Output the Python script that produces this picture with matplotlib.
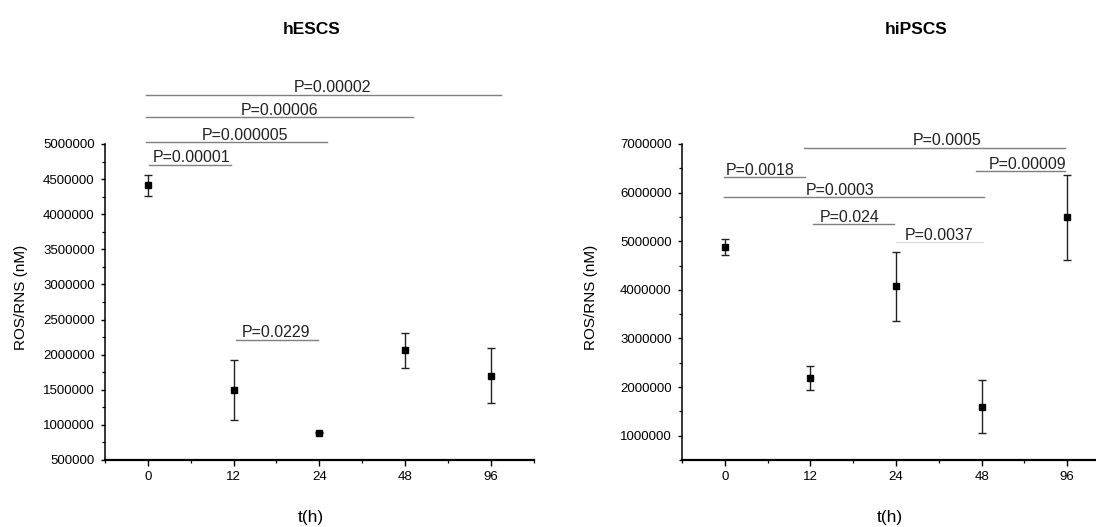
import matplotlib
matplotlib.use("Agg")
import matplotlib.pyplot as plt
from matplotlib.ticker import FixedLocator, MultipleLocator

plt.rcParams['font.family'] = ['Liberation Sans', 'DejaVu Sans']

categories = ["0", "12", "24", "48", "96"]

hesc_values = [4415000, 1500000, 890000, 2065000, 1700000]
hesc_errors = [150000, 425000, 10000, 250000, 390000]

hipsc_values = [4880000, 2180000, 4070000, 1600000, 5490000]
hipsc_errors = [165000, 250000, 706000, 541000, 880000]

# significance brackets: (label, start, end, level, text centre)
hesc_pvals = [
    ("P=0.00002", -0.016, 4.12, 5700000, 2.15),
    ("P=0.00006", -0.016, 3.09, 5380000, 1.54),
    ("P=0.000005", -0.016, 2.09, 5028000, 1.13),
    ("P=0.00001", 0.008, 0.965, 4705000, 0.51),
    ("P=0.0229", 1.026, 1.99, 2210000, 1.50),
]
hipsc_pvals = [
    ("P=0.0005", 0.93, 3.97, 6924000, 2.60),
    ("P=0.00009", 2.94, 3.97, 6444000, 3.54),
    ("P=0.0018", -0.01, 0.94, 6315000, 0.41),
    ("P=0.0003", -0.01, 3.03, 5903000, 1.35),
    ("P=0.024", 1.03, 1.98, 5348000, 1.46),
    ("P=0.0037", 2.0, 3.02, 4984000, 2.50),
]

W, H = 1096, 527
fig = plt.figure(figsize=(W / 100, H / 100), dpi=100)

def px_axes(x0, x1, ytop, ybot):
    return fig.add_axes([x0 / W, 1 - ybot / H, (x1 - x0) / W, (ybot - ytop) / H])

ax1 = px_axes(105, 533.7, 144, 460)
ax2 = px_axes(682, 1110, 144, 460)

def draw(ax, values, errors, pvals, ylim, major, title, title_x, xlabel_x, faint=None):
    x = list(range(len(categories)))
    ax.errorbar(x, values, yerr=errors, fmt='s', color='black', ms=4.5,
                ecolor='#222222', elinewidth=1.0, capsize=2.8, capthick=1.0)
    ax.set_xlim(-0.5, 4.5)
    ax.set_ylim(*ylim)
    ax.set_xticks(x)
    ax.set_xticklabels(categories)
    ax.xaxis.set_minor_locator(FixedLocator([-0.5, 0.5, 1.5, 2.5, 3.5, 4.5]))
    ax.yaxis.set_major_locator(MultipleLocator(major))
    ax.yaxis.set_minor_locator(MultipleLocator(major / 2))
    ax.ticklabel_format(axis='y', style='plain', useOffset=False)
    for s in ('top', 'right'):
        ax.spines[s].set_visible(False)
    ax.spines['left'].set_linewidth(1.1)
    ax.spines['bottom'].set_linewidth(1.6)
    ax.tick_params(axis='y', which='major', length=3.2, width=1.0, labelsize=9.5, pad=4.2)
    ax.tick_params(axis='y', which='minor', length=2.0, width=0.9)
    ax.tick_params(axis='x', which='major', length=4.3, width=1.0, labelsize=9.5, pad=3.5)
    ax.tick_params(axis='x', which='minor', length=2.4, width=0.9)
    ax.set_ylabel("ROS/RNS (nM)", fontsize=11, va='center', ha='center')
    ax.set_xlabel("t(h)", fontsize=12.5, va='center', ha='center')
    ax.xaxis.set_label_coords(xlabel_x, -0.1835)
    ax.text(title_x, 1.363, title, transform=ax.transAxes, ha='center', va='center',
            fontsize=12.5, fontweight='bold')
    for i, (lab, a, b, lvl, tx) in enumerate(pvals):
        col = '#dddddd' if faint is not None and i == faint else '#7f7f7f'
        ax.plot([a, b], [lvl, lvl], color=col, lw=1.0, clip_on=False)
        ax.annotate(lab, xy=(tx, lvl), xytext=(0, 1.8), textcoords='offset points',
                    ha='center', va='baseline', fontsize=11.5, color='#222222',
                    annotation_clip=False)

draw(ax1, hesc_values, hesc_errors, hesc_pvals, (500000, 5000000), 500000,
     "hESCS", 0.483, 0.479)
ax1.yaxis.set_label_coords(-0.197, 0.515)

draw(ax2, hipsc_values, hipsc_errors, hipsc_pvals, (500000, 7000000), 1000000,
     "hiPSCS", 0.546, 0.4855, faint=5)
ax2.yaxis.set_label_coords(-0.2125, 0.515)

fig.savefig("out.png", dpi=100)
